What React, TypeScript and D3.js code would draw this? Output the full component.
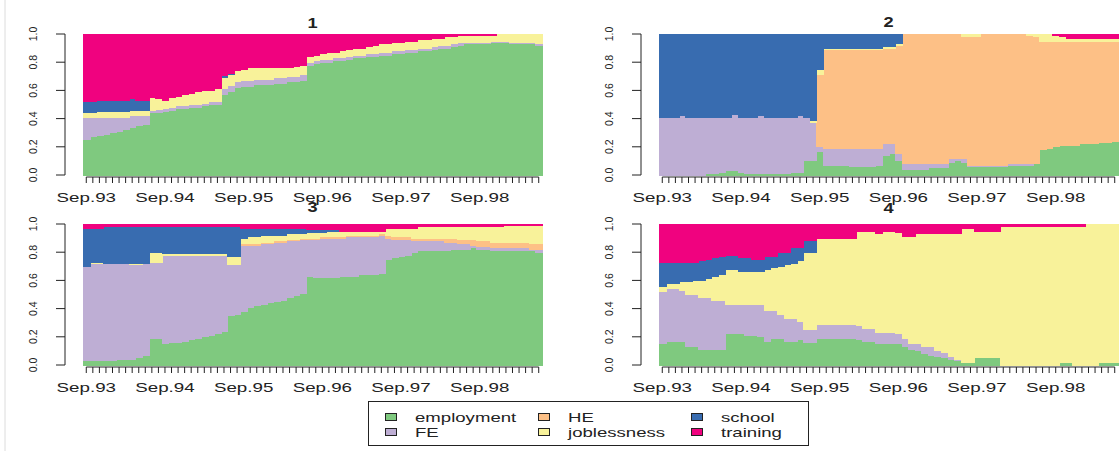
import React from 'react';
import * as d3 from 'd3';

// state order, bottom to top of every bar
const states = ['EM', 'FE', 'HE', 'JL', 'SC', 'TR'];
const stateLabels = ['employment', 'FE', 'HE', 'joblessness', 'school', 'training'];
const stateColors = ['#7FC97F', '#BEAED4', '#FDC086', '#F8F29A', '#386CB0', '#F0027F'];

const tickLabels = ['Sep.93', 'Sep.94', 'Sep.95', 'Sep.96', 'Sep.97', 'Sep.98'];
const yTicks = [0, 0.2, 0.4, 0.6, 0.8, 1.0];
const nMonths = 70;

// cluster 1 (percent of sequences per month)
const em1 = [25,27,28,29,30,31,32,34,35,36, 44,45,45,46,47,47,48,48,49,50, 50,58,60,62,63,63,64,64,64,65, 65,66,66,67,78,79,80,80,81,81, 82,83,83,84,84,85,85,86,86,87, 87,88,88,89,90,90,91,92,93,93, 93,93,94,94,94,93,93,93,93,92];
const fe1 = [16,14,13,12,11,10,9,8,7,6, 2,2,2,2,2,2,2,2,2,2, 2,4,4,4,4,4,4,4,4,4, 4,4,4,4,2,2,2,2,2,2, 2,2,2,2,2,2,2,2,2,2, 2,2,2,2,2,2,2,2,1,1, 1,1,1,1,1,1,1,1,1,1];
const he1 = [0,0,0,0,0,0,0,0,0,0, 0,0,0,0,0,0,0,0,0,0, 0,0,0,0,0,0,0,0,0,0, 0,0,0,0,0,0,0,0,0,0, 0,0,0,0,0,0,0,0,0,0, 0,0,0,0,0,0,0,0,0,0, 0,0,0,0,0,0,0,0,0,0];
const jl1 = [3,3,4,4,4,4,4,4,4,4, 9,8,6,7,7,8,8,9,9,8, 9,8,8,8,8,9,8,8,8,7, 7,6,7,7,4,4,4,5,4,5, 5,5,5,5,6,6,6,6,6,6, 6,6,6,6,5,6,5,5,5,5, 5,5,4,5,5,6,6,6,6,7];
const sc1 = [8,8,8,8,8,8,8,8,7,7, 0,0,0,0,0,0,0,0,0,0, 0,1,1,0,0,0,0,0,0,0, 0,0,0,0,0,0,0,0,0,0, 0,0,0,0,0,0,0,0,0,0, 0,0,0,0,0,0,0,0,0,0, 0,0,0,0,0,0,0,0,0,0];
const tr1 = [48,48,47,47,47,47,47,46,47,47, 45,46,47,45,44,43,42,41,40,40, 39,30,28,26,25,24,24,24,24,24, 24,24,23,22,16,15,14,13,13,12, 11,10,10,9,8,7,7,6,6,5, 5,4,4,3,3,2,2,1,1,1, 1,1,1,0,0,0,0,0,0,0];

// cluster 2
const em2 = [0,0,0,0,0,0,0,1,1,2, 3,3,2,1,1,1,1,1,1,1, 2,2,10,10,17,7,7,7,7,6, 6,6,6,7,14,15,10,4,4,4, 4,5,5,5,9,10,9,6,6,6, 6,6,6,7,7,7,7,8,18,19, 20,21,21,21,22,22,22,23,23,24];
const fe2 = [41,41,41,42,41,41,41,40,40,39, 38,40,39,40,40,41,40,40,40,40, 39,40,31,27,3,12,12,12,12,13, 13,13,13,12,8,7,5,4,4,4, 4,3,3,3,3,2,3,1,1,1, 1,1,1,1,1,1,1,0,0,0, 0,0,0,0,0,0,0,0,0,0];
const he2 = [0,0,0,0,0,0,0,0,0,0, 0,0,0,0,0,0,0,0,0,0, 0,0,0,0,51,70,70,70,70,70, 70,70,70,70,68,68,77,92,92,92, 92,92,92,92,88,88,86,91,91,93, 93,93,93,92,92,92,91,90,77,76, 75,74,74,74,73,73,73,72,72,71];
const jl2 = [0,0,0,0,0,0,0,0,0,0, 0,0,0,0,0,0,0,0,0,0, 0,0,0,2,4,1,1,1,1,1, 1,1,1,1,1,1,1,0,0,0, 0,0,0,0,0,0,2,2,2,0, 0,0,0,0,0,0,1,2,5,5, 4,3,2,2,2,2,2,2,2,2];
const sc2 = [59,59,59,58,59,59,59,59,59,59, 59,57,59,59,59,58,59,59,59,59, 59,58,59,61,25,10,10,10,10,10, 10,10,10,10,9,9,7,0,0,0, 0,0,0,0,0,0,0,0,0,0, 0,0,0,0,0,0,0,0,0,0, 0,0,0,0,0,0,0,0,0,0];
const tr2 = [0,0,0,0,0,0,0,0,0,0, 0,0,0,0,0,0,0,0,0,0, 0,0,0,0,0,0,0,0,0,0, 0,0,0,0,0,0,0,0,0,0, 0,0,0,0,0,0,0,0,0,0, 0,0,0,0,0,0,0,0,0,0, 1,2,3,3,3,3,3,3,3,3];

// cluster 3
const em3 = [3,3,3,3,3,4,4,4,5,7, 19,19,15,16,16,17,18,19,20,21, 22,24,35,36,38,41,42,43,44,45, 46,48,49,51,63,62,62,62,62,63, 63,63,64,64,64,65,75,76,77,78, 80,81,81,81,81,81,82,82,82,83, 82,82,81,81,81,81,81,81,81,80];
const fe3 = [67,69,69,69,69,68,68,67,66,65, 54,54,63,62,62,61,60,59,58,57, 56,54,36,35,47,44,43,43,42,42, 41,40,39,38,26,27,28,28,28,27, 28,28,27,27,27,27,15,13,12,11, 8,7,7,7,7,6,5,4,4,2, 2,2,2,2,2,2,2,2,1,2];
const he3 = [0,0,0,0,0,0,0,0,0,0, 0,0,0,0,0,0,0,0,0,0, 0,0,0,0,1,1,1,1,1,1, 1,1,1,1,1,1,1,1,1,1, 1,1,1,1,1,1,2,2,2,2, 2,2,2,2,2,3,3,3,3,4, 4,4,4,4,4,4,4,4,4,4];
const jl3 = [0,1,1,0,0,0,0,1,1,0, 7,7,1,1,1,1,1,1,1,1, 1,1,6,6,4,5,5,5,5,4, 4,4,4,3,4,4,3,4,4,4, 3,3,3,3,3,2,5,6,6,6, 7,8,8,8,8,8,8,9,9,9, 10,10,11,11,12,12,12,12,13,13];
const sc3 = [27,24,24,26,26,26,26,26,26,26, 18,18,19,19,19,19,19,19,19,19, 19,19,21,21,7,6,6,5,5,5, 5,4,4,4,2,2,2,1,1,0, 0,0,0,0,0,0,0,0,0,0, 0,0,0,0,0,0,0,0,0,0, 0,0,0,0,0,0,0,0,0,0];
const tr3 = [3,3,3,2,2,2,2,2,2,2, 2,2,2,2,2,2,2,2,2,2, 2,2,2,2,3,3,3,3,3,3, 3,3,3,3,4,4,4,4,4,5, 5,5,5,5,5,5,3,3,3,3, 3,2,2,2,2,2,2,2,2,2, 2,2,2,2,1,1,1,1,1,1];

// cluster 4
const em4 = [15,17,17,17,13,13,11,11,11,11, 22,22,22,21,21,20,17,19,19,17, 17,18,16,16,19,19,19,19,19,19, 18,17,17,15,15,15,15,13,11,10, 8,7,6,5,4,3,2,2,5,5, 5,5,0,0,0,0,0,0,0,0, 0,2,2,0,0,0,0,2,2,2];
const fe4 = [37,37,37,36,37,37,37,37,35,35, 21,21,21,22,22,23,22,20,17,16, 16,13,9,9,10,10,10,10,10,10, 10,9,9,8,8,8,7,6,4,5, 5,6,4,4,2,1,0,0,0,0, 0,0,0,0,0,0,0,0,0,0, 0,0,0,0,0,0,0,0,0,0];
const he4 = [0,0,0,0,0,0,0,0,0,0, 0,0,0,0,0,0,0,0,0,0, 0,0,0,0,0,0,0,0,0,0, 0,0,0,0,0,0,0,0,0,0, 0,0,0,0,0,0,0,0,0,0, 0,0,0,0,0,0,0,0,0,0, 0,0,0,0,0,0,0,0,0,0];
const jl4 = [4,4,4,6,9,10,12,13,17,18, 25,25,23,23,23,23,29,30,34,38, 39,43,55,55,61,61,61,61,61,61, 67,69,69,70,72,72,72,72,76,78, 80,80,83,84,87,89,95,95,90,90, 90,90,98,98,98,98,98,98,98,98, 98,96,96,98,98,100,100,98,98,98];
const sc4 = [17,15,15,14,14,13,14,14,13,13, 10,10,10,10,9,9,9,8,10,9, 11,9,8,8,0,0,0,0,0,0, 0,0,0,0,0,0,0,0,0,0, 0,0,0,0,0,0,0,0,0,0, 0,0,0,0,0,0,0,0,0,0, 0,0,0,0,0,0,0,0,0,0];
const tr4 = [27,27,27,27,27,27,26,25,24,23, 22,22,24,24,25,25,23,23,20,20, 17,17,12,12,10,10,10,10,10,10, 5,5,5,7,5,5,6,9,9,7, 7,7,7,7,7,7,3,3,5,5, 5,5,2,2,2,2,2,2,2,2, 2,2,2,2,2,0,0,0,0,0];

const clusters = [
  { title: '1', series: [em1, fe1, he1, jl1, sc1, tr1] },
  { title: '2', series: [em2, fe2, he2, jl2, sc2, tr2] },
  { title: '3', series: [em3, fe3, he3, jl3, sc3, tr3] },
  { title: '4', series: [em4, fe4, he4, jl4, sc4, tr4] },
];

const W = 1120;
const H = 451;
const FONT = '"Liberation Sans", Arial, sans-serif';
const INK = '#222';

// panel frames (plot area)
const panelW = 459;
const frames = [
  { left: 83, top: 34, bottom: 175, titleY: 28 },
  { left: 659, top: 34, bottom: 175, titleY: 27 },
  { left: 83, top: 224, bottom: 365, titleY: 212 },
  { left: 659, top: 224, bottom: 365, titleY: 213 },
];

const months = d3.range(nMonths);

const Panel: React.FC<{ idx: number }> = ({ idx }) => {
  const f = frames[idx];
  const c = clusters[idx];

  const x = d3.scaleBand<number>()
    .domain(months)
    .range([f.left, f.left + panelW])
    .padding(0);
  const y = d3.scaleLinear().domain([0, 1]).range([f.bottom, f.top]);

  const rows = months.map(i => {
    const r: Record<string, number> = {};
    states.forEach((s, k) => { r[s] = c.series[k][i]; });
    return r;
  });
  const stacked = d3.stack<Record<string, number>>()
    .keys(states)
    .offset(d3.stackOffsetExpand)(rows);

  const bw = x.bandwidth();
  const axisX = f.left - 18;
  const tickY = f.bottom + 2;
  const firstC = x(0)! + bw / 2;
  const lastC = x(nMonths - 1)! + bw / 2;

  return (
    <g>
      {stacked.map((layer, k) => (
        <g key={layer.key} fill={stateColors[k]} shapeRendering="crispEdges">
          {layer.map((d, i) => {
            const h = y(d[0]) - y(d[1]);
            if (h <= 0) return null;
            return (
              <rect key={i} x={x(i)!} y={y(d[1])} width={bw + 1} height={h + 0.5} />
            );
          })}
        </g>
      ))}

      {/* y axis */}
      <line x1={axisX} x2={axisX} y1={y(0)} y2={y(1)} stroke={INK} strokeWidth={1} />
      {yTicks.map(t => (
        <g key={t}>
          <line x1={axisX - 9} x2={axisX} y1={y(t)} y2={y(t)} stroke={INK} strokeWidth={1} />
          <text
            transform={`translate(${axisX - 32},${y(t)}) rotate(-90)`}
            textAnchor="middle"
            dominantBaseline="central"
            fontSize={10.5}
            fill={INK}
          >
            {t.toFixed(1)}
          </text>
        </g>
      ))}

      {/* x axis: one tick per month */}
      <line x1={firstC} x2={lastC} y1={tickY} y2={tickY} stroke={INK} strokeWidth={1} />
      {months.map(i => (
        <line key={i} x1={x(i)! + bw / 2} x2={x(i)! + bw / 2} y1={tickY} y2={tickY + 6}
          stroke={INK} strokeWidth={1} />
      ))}
      {tickLabels.map((lab, j) => (
        <text
          key={lab}
          transform={`translate(${x(j * 12)! + bw / 2},${f.bottom + 27}) scale(1.5,1)`}
          textAnchor="middle"
          fontSize={12.5}
          fill={INK}
        >
          {lab}
        </text>
      ))}

      <text
        transform={`translate(${f.left + panelW / 2},${f.titleY}) scale(1.3,1)`}
        textAnchor="middle"
        fontSize={14}
        fontWeight="bold"
        fill={INK}
      >
        {c.title}
      </text>
    </g>
  );
};

const legendCols = [385, 538, 691];
const legendRows = [422, 437];

export default function App() {
  return (
    <svg
      width={W}
      height={H}
      style={{ position: 'absolute', left: 0, top: 0, background: '#fff', fontFamily: FONT }}
    >
      <rect x={0} y={0} width={W} height={H} fill="#fff" />
      <line x1={5} x2={5} y1={0} y2={H} stroke="#dcdcdc" strokeWidth={1} />
      {clusters.map((_, i) => <Panel key={i} idx={i} />)}

      {/* legend */}
      <rect x={368.5} y={401.5} width={440} height={44} fill="none" stroke={INK} strokeWidth={1} />
      {stateLabels.map((lab, k) => {
        const col = Math.floor(k / 2);
        const row = k % 2;
        const lx = legendCols[col];
        const ly = legendRows[row];
        return (
          <g key={lab}>
            <rect x={lx + 0.5} y={ly - 8.5} width={11} height={7} fill={stateColors[k]}
              stroke={INK} strokeWidth={1} />
            <text
              transform={`translate(${lx + 30},${ly}) scale(1.55,1)`}
              fontSize={12}
              fill={INK}
            >
              {lab}
            </text>
          </g>
        );
      })}
    </svg>
  );
}
